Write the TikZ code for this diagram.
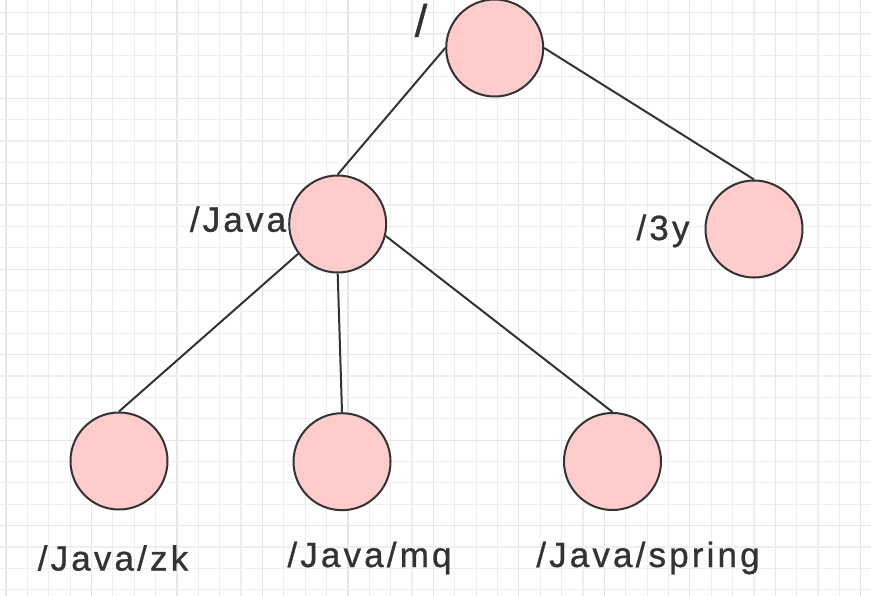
\documentclass[tikz,border=0pt]{standalone}
\usepackage{fontspec}
\newfontfamily\lblfont[LetterSpace=9,FakeBold=0.8]{Liberation Sans}
\newfontfamily\rootfont[FakeBold=0.8]{Liberation Sans}
\definecolor{nodefill}{HTML}{FFCCCC}
\definecolor{ink}{HTML}{333333}
\definecolor{gridminor}{HTML}{EEEEEE}
\definecolor{gridmajor}{HTML}{E6E6E6}
\begin{document}
\begin{tikzpicture}[x=1pt,y=-1pt,
  zknode/.style={circle,draw=ink,fill=nodefill,line width=2pt,minimum size=97pt,inner sep=0pt},
  lbl/.style={anchor=base,inner sep=0pt,text=ink,font=\lblfont\fontsize{35}{35}\selectfont},
  edge/.style={draw=ink,line width=2pt}]
\useasboundingbox (0,0) rectangle (871,596);
\fill[white] (0,0) rectangle (871,596);
\foreach \k in {0,...,40} {
  \pgfmathtruncatemacro{\m}{mod(\k,4)}
  \ifnum\m=0
    \draw[gridmajor,line width=1.2pt] ({6+21.37*\k},0) -- ({6+21.37*\k},596);
  \else
    \draw[gridminor,line width=1.2pt] ({6+21.37*\k},0) -- ({6+21.37*\k},596);
  \fi
}
\foreach \k in {0,...,27} {
  \pgfmathtruncatemacro{\m}{mod(\k,4)}
  \ifnum\m=0
    \draw[gridmajor,line width=1.2pt] (0,{12.7+21.37*\k}) -- (871,{12.7+21.37*\k});
  \else
    \draw[gridminor,line width=1.2pt] (0,{12.7+21.37*\k}) -- (871,{12.7+21.37*\k});
  \fi
}
\node[zknode] (root) at (494.7,48) {};
\node[zknode] (java) at (337.7,224) {};
\node[zknode] (y3) at (754,229) {};
\node[zknode] (zk) at (119,461) {};
\node[zknode] (mq) at (342,461.7) {};
\node[zknode] (spring) at (612.5,461.5) {};
\draw[edge] (root.west) -- (java.north);
\draw[edge] (root.east) -- (y3.north);
\draw[edge] (java.217) -- (zk.north);
\draw[edge] (java.south) -- (mq.north);
\draw[edge] (java.-14) -- (spring.north);
\node[anchor=base,inner sep=0pt,text=ink,font=\rootfont\fontsize{45}{45}\selectfont] (lroot) at (421,36.5) {/};
\node[lbl] (ljava) at (238,231.7) {/Java};
\node[lbl] (ly3) at (663,240) {/3y};
\node[lbl] (lzk) at (113,570.5) {/Java/zk};
\node[lbl] (lmq) at (369.5,567) {/Java/mq};
\node[lbl] (lspring) at (648,567) {/Java/spring};
\end{tikzpicture}
\end{document}
